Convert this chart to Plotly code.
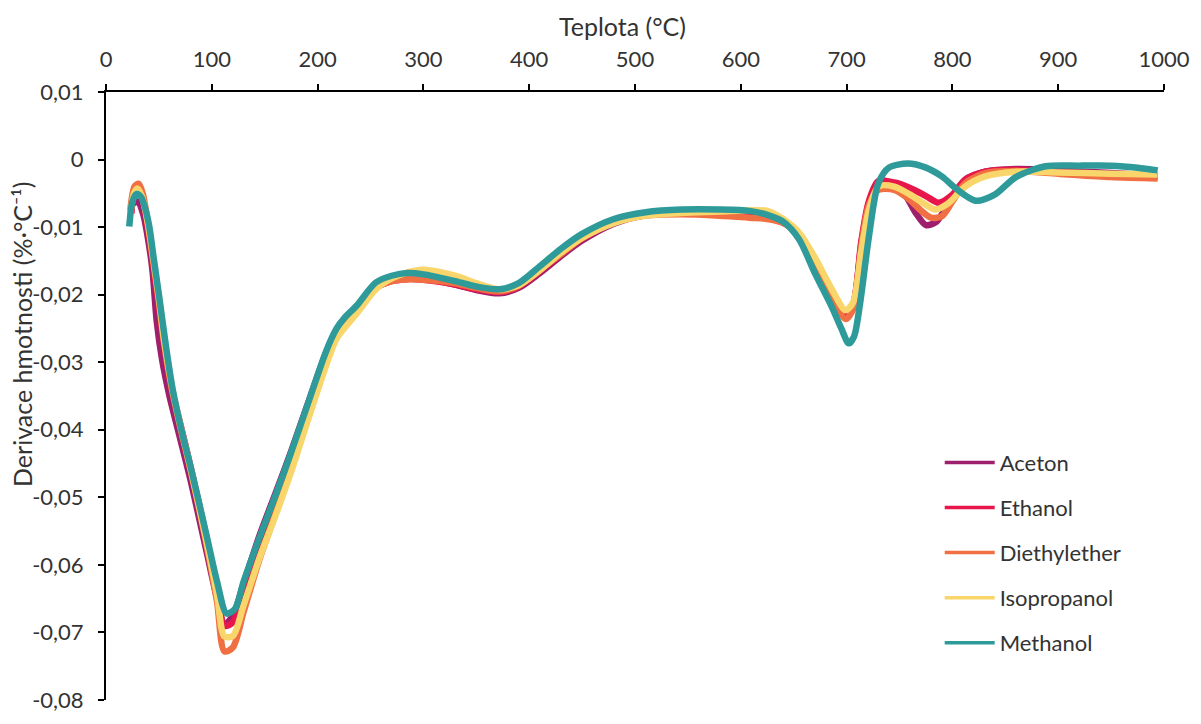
import plotly.graph_objects as go

# ---- data ----
series_names = ["Aceton", "Ethanol", "Diethylether", "Isopropanol", "Methanol"]
series_colors = ["#9E1F6C", "#E8174B", "#F07043", "#F9D66B", "#2E9A9A"]

T_aceton = [26, 30, 35, 40, 44, 48, 53, 60, 68, 80, 95, 105, 112, 120, 130, 145, 160, 175, 192, 208, 218, 237, 255, 270, 285, 300, 330, 350, 372, 390, 410, 430, 450, 480, 510, 544, 580, 608, 625, 640, 655, 670, 686, 699, 706, 714, 721, 730, 740, 755, 765, 775, 785, 795, 812, 831, 860, 900, 950, 994]
V_aceton = [-0.0065, -0.0062, -0.0080, -0.0120, -0.0165, -0.0240, -0.0296, -0.0350, -0.0400, -0.0475, -0.0580, -0.0650, -0.0688, -0.0675, -0.0628, -0.0557, -0.0495, -0.0432, -0.0356, -0.0286, -0.0252, -0.0220, -0.0188, -0.0178, -0.0175, -0.0176, -0.0185, -0.0193, -0.0198, -0.0190, -0.0168, -0.0143, -0.0120, -0.0095, -0.0082, -0.0078, -0.0078, -0.0080, -0.0083, -0.0092, -0.0110, -0.0148, -0.0195, -0.0228, -0.0215, -0.0125, -0.0066, -0.0034, -0.0036, -0.0052, -0.0078, -0.0097, -0.0092, -0.0068, -0.0030, -0.0018, -0.0014, -0.0016, -0.0020, -0.0024]

T_ethanol = [24, 27, 31, 35, 40, 45, 50, 55, 62, 70, 80, 95, 105, 112, 120, 130, 145, 160, 175, 192, 208, 218, 237, 255, 270, 285, 300, 330, 350, 372, 390, 410, 430, 450, 480, 510, 544, 580, 608, 625, 640, 655, 670, 686, 699, 706, 714, 721, 730, 745, 760, 775, 787, 800, 812, 831, 860, 900, 950, 994]
V_ethanol = [-0.0080, -0.0045, -0.0040, -0.0060, -0.0105, -0.0160, -0.0215, -0.0275, -0.0338, -0.0390, -0.0455, -0.0560, -0.0635, -0.0690, -0.0685, -0.0640, -0.0568, -0.0505, -0.0440, -0.0362, -0.0292, -0.0256, -0.0222, -0.0190, -0.0180, -0.0177, -0.0178, -0.0185, -0.0192, -0.0196, -0.0188, -0.0165, -0.0140, -0.0117, -0.0093, -0.0081, -0.0078, -0.0079, -0.0081, -0.0085, -0.0093, -0.0112, -0.0150, -0.0197, -0.0232, -0.0218, -0.0120, -0.0062, -0.0032, -0.0034, -0.0042, -0.0054, -0.0064, -0.0052, -0.0030, -0.0018, -0.0015, -0.0019, -0.0023, -0.0026]

T_diethyl = [23, 27, 31, 35, 40, 45, 50, 55, 62, 70, 80, 95, 105, 112, 120, 130, 145, 160, 175, 192, 208, 218, 237, 255, 270, 285, 300, 330, 350, 372, 390, 410, 430, 450, 480, 510, 544, 580, 608, 625, 640, 655, 670, 686, 699, 706, 714, 721, 730, 745, 760, 770, 780, 790, 800, 812, 831, 860, 900, 950, 994]
V_diethyl = [-0.0075, -0.0040, -0.0036, -0.0052, -0.0100, -0.0155, -0.0210, -0.0272, -0.0338, -0.0395, -0.0460, -0.0570, -0.0655, -0.0728, -0.0722, -0.0670, -0.0592, -0.0525, -0.0455, -0.0372, -0.0298, -0.0260, -0.0225, -0.0190, -0.0180, -0.0177, -0.0178, -0.0183, -0.0190, -0.0195, -0.0187, -0.0163, -0.0140, -0.0116, -0.0092, -0.0083, -0.0081, -0.0083, -0.0086, -0.0088, -0.0094, -0.0110, -0.0148, -0.0200, -0.0236, -0.0222, -0.0128, -0.0068, -0.0045, -0.0045, -0.0060, -0.0075, -0.0086, -0.0084, -0.0062, -0.0035, -0.0020, -0.0017, -0.0021, -0.0026, -0.0028]

T_isoprop = [23, 27, 30, 34, 40, 45, 50, 55, 62, 70, 80, 95, 105, 112, 120, 130, 145, 160, 175, 192, 208, 218, 237, 255, 270, 285, 300, 330, 350, 372, 390, 410, 430, 450, 480, 510, 544, 580, 608, 625, 640, 655, 670, 686, 699, 706, 714, 721, 730, 745, 760, 772, 784, 796, 812, 831, 860, 900, 950, 994]
V_isoprop = [-0.0080, -0.0048, -0.0043, -0.0055, -0.0098, -0.0150, -0.0205, -0.0268, -0.0333, -0.0392, -0.0458, -0.0565, -0.0645, -0.0706, -0.0705, -0.0660, -0.0590, -0.0528, -0.0462, -0.0380, -0.0305, -0.0265, -0.0228, -0.0192, -0.0176, -0.0167, -0.0163, -0.0172, -0.0183, -0.0192, -0.0186, -0.0164, -0.0138, -0.0116, -0.0094, -0.0083, -0.0079, -0.0077, -0.0075, -0.0076, -0.0088, -0.0108, -0.0145, -0.0192, -0.0223, -0.0212, -0.0135, -0.0075, -0.0040, -0.0040, -0.0052, -0.0064, -0.0074, -0.0065, -0.0040, -0.0025, -0.0018, -0.0019, -0.0021, -0.0022]

T_methanol = [22, 25, 29, 33, 37, 41, 45, 50, 57, 63, 72, 80, 95, 105, 114, 122, 130, 145, 160, 174, 192, 208, 218, 225, 237, 255, 270, 285, 300, 330, 350, 372, 390, 410, 430, 450, 480, 510, 544, 580, 608, 625, 640, 655, 670, 686, 695, 702, 707, 713, 721, 730, 740, 758, 775, 790, 805, 822, 840, 860, 888, 920, 950, 975, 994]
V_methanol = [-0.0099, -0.0062, -0.0051, -0.0055, -0.0072, -0.0100, -0.0145, -0.0200, -0.0280, -0.0340, -0.0405, -0.0455, -0.0556, -0.0625, -0.0672, -0.0665, -0.0625, -0.0560, -0.0498, -0.0438, -0.0356, -0.0284, -0.0250, -0.0235, -0.0216, -0.0182, -0.0172, -0.0168, -0.0170, -0.0180, -0.0188, -0.0192, -0.0183, -0.0158, -0.0132, -0.0110, -0.0088, -0.0078, -0.0074, -0.0074, -0.0076, -0.0082, -0.0092, -0.0118, -0.0168, -0.0218, -0.0250, -0.0272, -0.0262, -0.0210, -0.0115, -0.0035, -0.0012, -0.0006, -0.0012, -0.0025, -0.0045, -0.0061, -0.0052, -0.0026, -0.0010, -0.0009, -0.0009, -0.0012, -0.0016]

x_ticks = [0, 100, 200, 300, 400, 500, 600, 700, 800, 900, 1000]
y_ticks = [-0.08, -0.07, -0.06, -0.05, -0.04, -0.03, -0.02, -0.01, 0, 0.01]
y_ticktext = ["-0,08", "-0,07", "-0,06", "-0,05", "-0,04", "-0,03", "-0,02", "-0,01", "0", "0,01"]

x_title = "Teplota (°C)"
y_title = "Derivace hmotnosti (%·°C⁻¹)"

FONT = "Lato, 'Open Sans', sans-serif"
TXT = "#333333"

xs = [T_aceton, T_ethanol, T_diethyl, T_isoprop, T_methanol]
ys = [V_aceton, V_ethanol, V_diethyl, V_isoprop, V_methanol]

fig = go.Figure()
for name, col, x, y in zip(series_names, series_colors, xs, ys):
    fig.add_trace(go.Scatter(x=x, y=y, mode="lines", name=name, showlegend=False,
                             line=dict(color=col, width=6.5, shape="spline", smoothing=0.8)))
# legend entries (thinner line like reference)
for i, (name, col) in enumerate(zip(series_names, series_colors)):
    fig.add_trace(go.Scatter(x=[None], y=[None], mode="lines", name=name,
                             legendgroup=f"g{i}", line=dict(color=col, width=3.5)))

fig.update_layout(
    width=1201, height=724,
    margin=dict(l=106, r=35, t=92, b=11),
    paper_bgcolor="white", plot_bgcolor="white",
    font=dict(family=FONT, size=22, color=TXT),
    legend=dict(x=0.788, y=0.425, xanchor="left", yanchor="top",
                bgcolor="rgba(0,0,0,0)", tracegroupgap=13.5, itemwidth=50,
                font=dict(family=FONT, size=22, color=TXT)),
    xaxis=dict(side="top", range=[0, 1000], tickvals=x_ticks,
               showgrid=False, zeroline=False, showline=True, linecolor="black", linewidth=2,
               ticks="outside", ticklen=6, tickwidth=2, tickcolor="black",
               ticklabelstandoff=8, ticklabeloverflow="allow",
               tickfont=dict(family=FONT, size=22, color=TXT)),
    yaxis=dict(range=[-0.08, 0.01], tickvals=y_ticks, ticktext=y_ticktext,
               showgrid=False, zeroline=False, showline=True, linecolor="black", linewidth=2,
               ticks="outside", ticklen=6, tickwidth=2, tickcolor="black",
               ticklabelstandoff=10, ticklabeloverflow="allow",
               tickfont=dict(family=FONT, size=22, color=TXT)),
    annotations=[
        dict(text=x_title, xref="paper", yref="paper", x=(623.5 - 106) / 1060, y=1 + (92 - 25) / 621,
             showarrow=False, xanchor="center", yanchor="middle",
             font=dict(family=FONT, size=25, color=TXT)),
        dict(text=y_title, xref="paper", yref="paper", x=-(106 - 22) / 1060, y=(713 - 340) / 621,
             showarrow=False, xanchor="center", yanchor="middle", textangle=-90,
             font=dict(family=FONT, size=25, color=TXT)),
    ],
)

fig.write_html("out.html")
